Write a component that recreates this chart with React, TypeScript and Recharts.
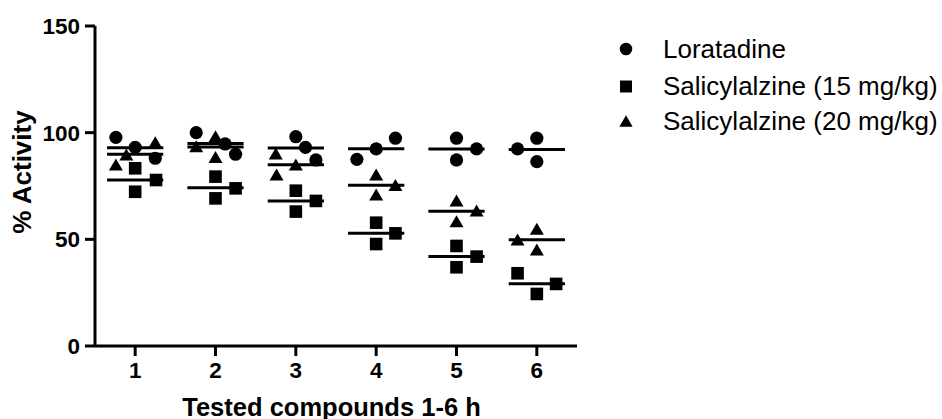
import React from 'react';
import { ComposedChart, Scatter, XAxis, YAxis, ReferenceLine, Legend } from 'recharts';

const groups = [1, 2, 3, 4, 5, 6];
const xTicks = [1, 2, 3, 4, 5, 6];
const yTicks = [0, 50, 100, 150];
const seriesNames = ['Loratadine', 'Salicylalzine (15 mg/kg)', 'Salicylalzine (20 mg/kg)'];

const loratadine = [
  [97.8, 93.1, 88.0],
  [100.0, 94.7, 89.9],
  [98.1, 93.1, 87.2],
  [87.5, 92.4, 97.4],
  [97.4, 87.2, 92.4],
  [92.4, 97.4, 86.4],
];
const loratadineJitter = [
  [-0.24, 0, 0.25],
  [-0.24, 0.12, 0.25],
  [0, 0.12, 0.25],
  [-0.24, 0, 0.24],
  [0, 0, 0.25],
  [-0.24, 0, 0],
];

const sal15 = [
  [83.3, 72.3, 77.8],
  [79.4, 69.2, 73.9],
  [72.8, 63.0, 68.0],
  [57.8, 47.8, 52.8],
  [46.9, 36.9, 41.9],
  [34.1, 24.4, 29.1],
];
const sal15Jitter = [
  [0, 0, 0.26],
  [0, 0, 0.25],
  [0, 0, 0.25],
  [0, 0, 0.24],
  [0, 0, 0.25],
  [-0.24, 0, 0.24],
];

const sal20 = [
  [84.8, 89.5, 95.3],
  [93.4, 98.1, 88.4],
  [90.0, 84.8, 80.2],
  [80.2, 70.8, 75.2],
  [68.0, 58.3, 63.3],
  [49.7, 54.7, 45.0],
];
const sal20Jitter = [
  [-0.24, -0.11, 0.25],
  [-0.24, 0, 0],
  [-0.25, 0, -0.24],
  [0, 0, 0.24],
  [0, 0, 0.25],
  [-0.24, 0, 0],
];

const toPoints = (vals: number[][], jit: number[][]) =>
  groups.flatMap((g, i) => vals[i].map((v, j) => ({ x: g + jit[i][j], y: v })));

const mean = (a: number[]) => a.reduce((s, v) => s + v, 0) / a.length;

const allSeries = [
  { name: seriesNames[0], vals: loratadine, jit: loratadineJitter, shape: 'circle' },
  { name: seriesNames[1], vals: sal15, jit: sal15Jitter, shape: 'square' },
  { name: seriesNames[2], vals: sal20, jit: sal20Jitter, shape: 'triangle' },
];

const Marker = ({ kind, cx, cy, s = 1 }: { kind: string; cx: number; cy: number; s?: number }) => {
  if (kind === 'circle') return <circle cx={cx} cy={cy} r={6.6 * s} fill="#000" />;
  if (kind === 'square')
    return <rect x={cx - 6.3 * s} y={cy - 6.3 * s} width={12.6 * s} height={12.6 * s} fill="#000" />;
  return (
    <polygon
      points={`${cx},${cy - 6.5 * s} ${cx + 7 * s},${cy + 5.5 * s} ${cx - 7 * s},${cy + 5.5 * s}`}
      fill="#000"
    />
  );
};

const FONT = "Arial, 'Liberation Sans', Helvetica, sans-serif";

const LegendContent = () => {
  const rows = [48.5, 86, 121];
  return (
    <svg width={942} height={150} style={{ display: 'block' }}>
      {allSeries.map((s, i) => (
        <g key={s.name}>
          <Marker kind={s.shape} cx={626} cy={rows[i] + 0.5} s={0.95} />
          <text x={663} y={rows[i]} dy="0.35em" fontSize={26} fontFamily={FONT} fill="#000">
            {s.name}
          </text>
        </g>
      ))}
    </svg>
  );
};

export default function App() {
  return (
    <div style={{ width: 942, height: 419, position: 'relative' }}>
      <style>{'body{margin:0;}'}</style>
      <ComposedChart
        width={942}
        height={419}
        margin={{ top: 26, right: 365, bottom: 0, left: 35 }}
      >
        <XAxis
          type="number"
          dataKey="x"
          domain={[0.5, 6.5]}
          ticks={xTicks}
          allowDataOverflow
          axisLine={{ stroke: '#000', strokeWidth: 3 }}
          tickLine={{ stroke: '#000', strokeWidth: 3 }}
          tickSize={10}
          tickMargin={6}
          height={73}
          tick={{ fill: '#000', fontSize: 22.5, fontWeight: 'bold', fontFamily: FONT }}
          label={{
            content: () => (
              <text
                x={331.5}
                y={415.5}
                textAnchor="middle"
                fontSize={25.5}
                fontWeight="bold"
                fontFamily={FONT}
                fill="#000"
              >
                Tested compounds 1-6 h
              </text>
            ),
          }}
        />
        <YAxis
          type="number"
          dataKey="y"
          domain={[0, 150]}
          ticks={yTicks}
          allowDataOverflow
          width={60}
          axisLine={{ stroke: '#000', strokeWidth: 3 }}
          tickLine={{ stroke: '#000', strokeWidth: 3 }}
          tickSize={10}
          tickMargin={5}
          tick={{ fill: '#000', fontSize: 22.5, fontWeight: 'bold', fontFamily: FONT }}
          label={{
            content: () => (
              <text
                x={31}
                y={172}
                transform="rotate(-90 31 172)"
                textAnchor="middle"
                fontSize={26}
                fontWeight="bold"
                fontFamily={FONT}
                fill="#000"
              >
                % Activity
              </text>
            ),
          }}
        />
        {allSeries.map((s) => (
          <Scatter
            key={s.name}
            name={s.name}
            data={toPoints(s.vals, s.jit)}
            isAnimationActive={false}
            shape={(p: any) => <Marker kind={s.shape} cx={p.cx} cy={p.cy} />}
          />
        ))}
        {allSeries.flatMap((s) =>
          groups.map((g, i) => {
            const m = mean(s.vals[i]);
            return (
              <ReferenceLine
                key={`${s.name}-${g}`}
                segment={[
                  { x: g - 0.35, y: m },
                  { x: g + 0.35, y: m },
                ]}
                stroke="#000"
                strokeWidth={3}
              />
            );
          })
        )}
        <Legend
          layout="vertical"
          align="center"
          verticalAlign="middle"
          wrapperStyle={{ position: 'absolute', left: 0, top: 0, width: 942, height: 150 }}
          content={() => <LegendContent />}
        />
      </ComposedChart>
    </div>
  );
}
